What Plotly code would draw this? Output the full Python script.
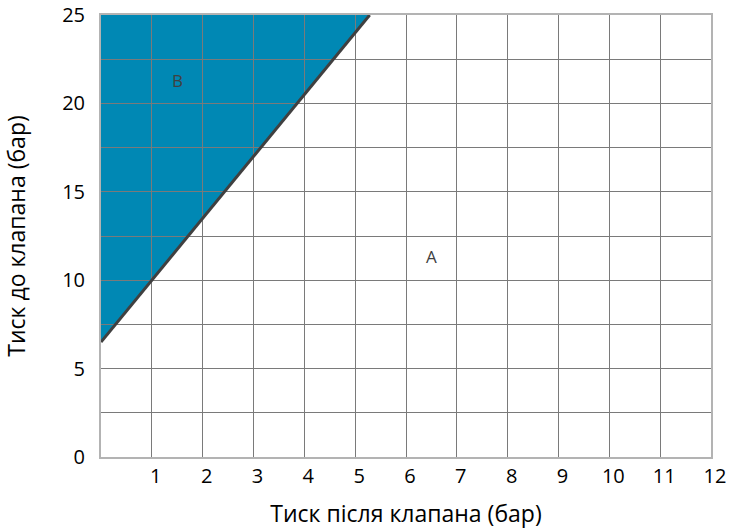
import plotly.graph_objects as go

# Data
boundary_x = [0, 5.286]
boundary_y = [6.5, 25]
region_b_x = [0, 5.286, 0]
region_b_y = [6.5, 25, 25]
labels_text = ["A", "B"]
labels_x = [6.5, 1.5]
labels_y = [11.35, 21.3]
x_ticks = list(range(1, 13))
y_grid = [0, 2.5, 5, 7.5, 10, 12.5, 15, 17.5, 20, 22.5, 25]
y_tick_text = ["0", "", "5", "", "10", "", "15", "", "20", "", "25"]

fig = go.Figure()

path = "M " + " L ".join(f"{x},{y}" for x, y in zip(region_b_x, region_b_y)) + " Z"
fig.add_shape(type="path", path=path, xref="x", yref="y", layer="below",
              fillcolor="#0088B4", line=dict(width=0))

fig.add_trace(go.Scatter(x=boundary_x, y=boundary_y, mode="lines",
                         line=dict(color="#404040", width=3), hoverinfo="skip",
                         showlegend=False))

for t, x, y in zip(labels_text, labels_x, labels_y):
    fig.add_annotation(x=x, y=y, text=t, showarrow=False,
                       font=dict(size=17, color="#404040"))

font = "Open Sans, Noto Sans, sans-serif"
fig.update_layout(
    width=735, height=529,
    margin=dict(l=101, r=24, t=15, b=72),
    paper_bgcolor="white", plot_bgcolor="white",
    font=dict(family=font, color="black"),
    showlegend=False,
)
fig.update_xaxes(range=[0, 12], tickvals=x_ticks, ticktext=[str(v) for v in x_ticks],
                 showgrid=True, gridcolor="#7a7a7a", gridwidth=1,
                 showline=True, linecolor="#b3b3b3", linewidth=2, mirror=True,
                 zeroline=False, ticks="", tickfont=dict(size=20),
                 ticklabelshift=4, automargin=False,
                 title=dict(text="Тиск після клапана (бар)", font=dict(size=23), standoff=18))
fig.update_yaxes(range=[0, 25], tickvals=y_grid, ticktext=y_tick_text,
                 showgrid=True, gridcolor="#7a7a7a", gridwidth=1,
                 showline=True, linecolor="#b3b3b3", linewidth=2, mirror=True,
                 zeroline=False, ticks="", tickfont=dict(size=20), automargin=False,
                 ticklabelstandoff=10,
                 title=dict(text="Тиск до клапана (бар)", font=dict(size=23), standoff=30))

fig.write_html("out.html", config={"displayModeBar": False},
               post_script="document.body.style.margin='0';document.body.style.overflow='hidden';")
